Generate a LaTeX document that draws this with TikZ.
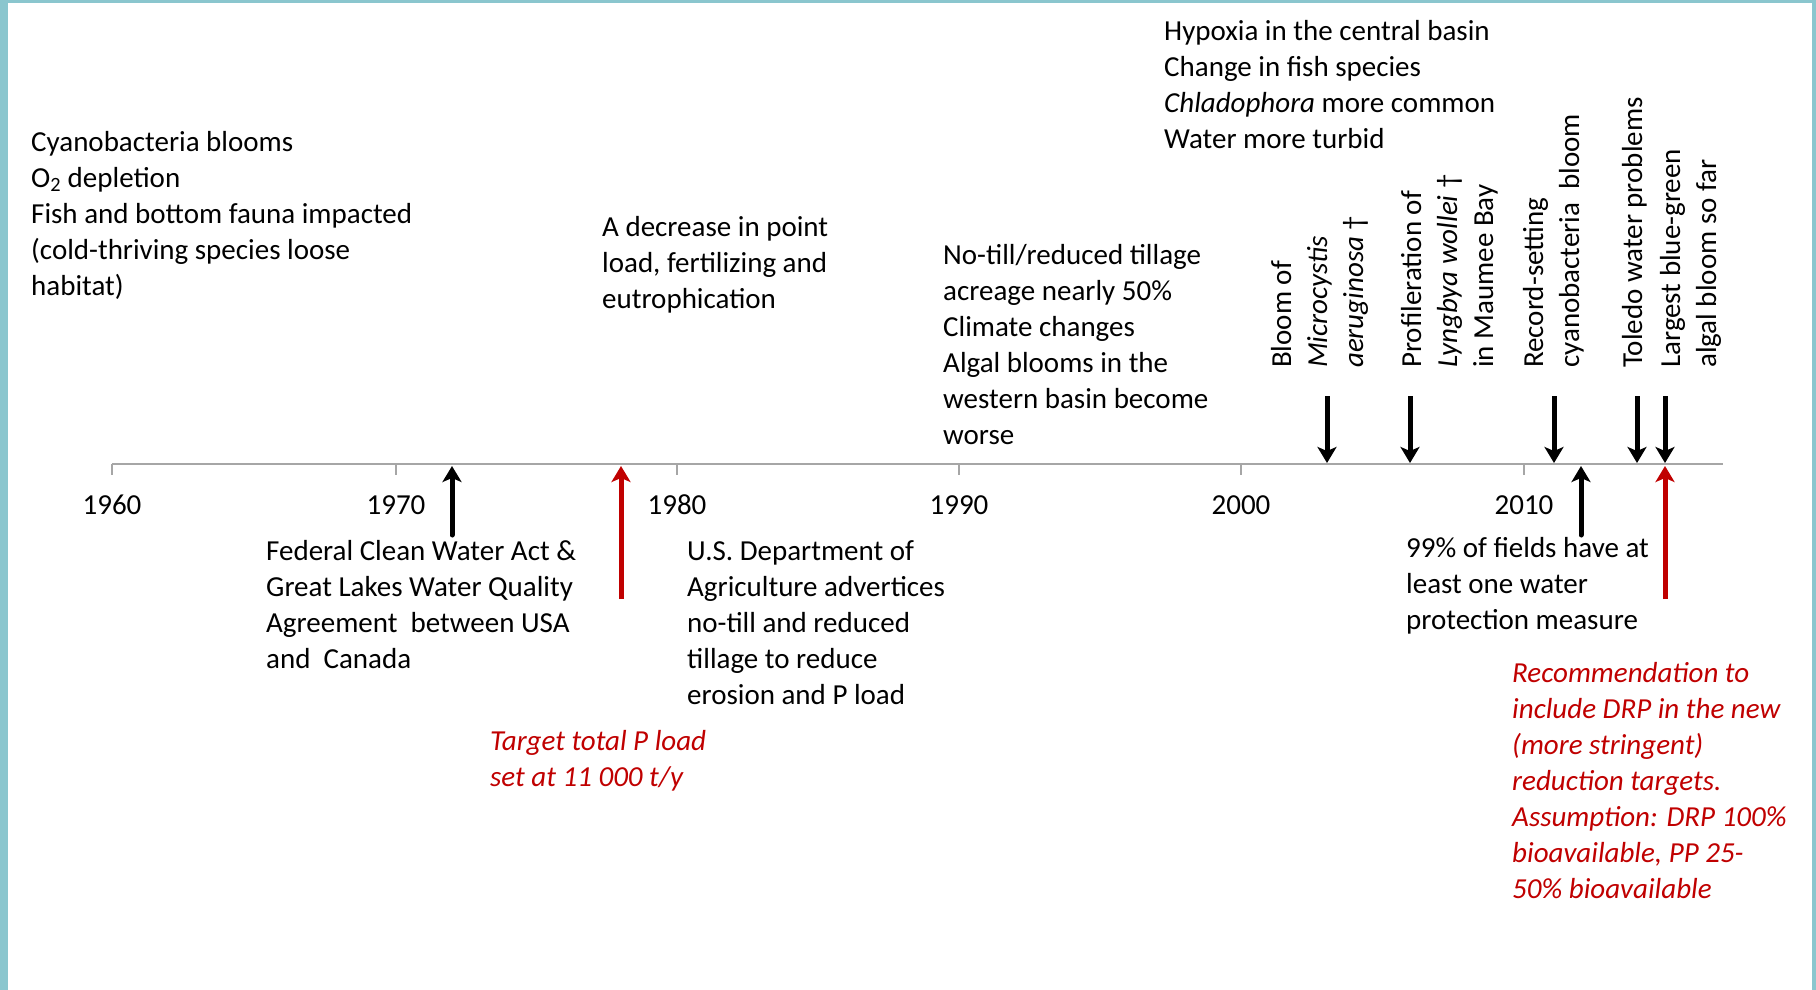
\documentclass[tikz,border=0pt]{standalone}
\usepackage{fontspec}
\setmainfont{Carlito}
\usetikzlibrary{arrows.meta}
\definecolor{teal1}{RGB}{138,198,206}
\definecolor{darkred}{RGB}{192,0,0}
\definecolor{axisgray}{RGB}{166,166,166}
\tikzset{
  txt/.style={anchor=base west, inner sep=0pt, align=left, font=\fontsize{29}{36}\selectfont},
  redtxt/.style={txt, text=darkred, font=\fontsize{29}{36}\selectfont\itshape},
  rtxt/.style={txt, rotate=90},
  yearlbl/.style={anchor=base, inner sep=0pt, font=\fontsize{29}{36}\selectfont},
  axisline/.style={draw=axisgray, line width=2pt},
  tickmark/.style={draw=axisgray, line width=1.5pt},
  downarr/.style={draw=black, line width=5pt, -{Stealth[length=16pt,width=19pt,inset=4pt]}},
  uparr/.style={draw=black, line width=5pt, line cap=round, -{Stealth[length=16pt,width=19pt,inset=4pt]}},
  redarr/.style={draw=darkred, line width=5pt, -{Stealth[length=16pt,width=19pt,inset=4pt]}},
}
\begin{document}
\begin{tikzpicture}[x=1pt,y=-1pt]
\useasboundingbox (0,0) rectangle (1816,990);
\fill[white] (0,0) rectangle (1816,990);
% border
\fill[teal1] (0,0) rectangle (8,990);
\fill[teal1] (0,0) rectangle (1816,3);
\fill[teal1] (1812,0) rectangle (1816,990);

% axis
\coordinate (axL) at (112,464);
\coordinate (axR) at (1723,464);
\draw[axisline] (axL) -- (axR);
\foreach \yr/\xx in {1960/112,1970/396,1980/677,1990/959,2000/1241,2010/1524}{
  \coordinate (tk\yr) at (\xx,464);
  \coordinate (tkb\yr) at (\xx,475);
  \draw[tickmark] (tk\yr) -- (tkb\yr);
  \node[yearlbl] (yl\yr) at (\xx,514) {\yr};
}

% arrow coordinates
\coordinate (a72tip) at (452,466);
\coordinate (a72tail) at (452,535);
\coordinate (a78tip) at (621,466);
\coordinate (a78tail) at (621,599);
\coordinate (a03tail) at (1327,396);
\coordinate (a03tip) at (1327,463);
\coordinate (a06tail) at (1410,396);
\coordinate (a06tip) at (1410,463);
\coordinate (a11tail) at (1554,396);
\coordinate (a11tip) at (1554,463);
\coordinate (a14tail) at (1637,396);
\coordinate (a14tip) at (1637,463);
\coordinate (a15tail) at (1665,396);
\coordinate (a15tip) at (1665,463);
\coordinate (a12tip) at (1581,466);
\coordinate (a12tail) at (1581,535);
\coordinate (a15rtip) at (1665,466);
\coordinate (a15rtail) at (1665,599);

\draw[uparr] (a72tail) -- (a72tip);
\draw[redarr] (a78tail) -- (a78tip);
\draw[downarr] (a03tail) -- (a03tip);
\draw[downarr] (a06tail) -- (a06tip);
\draw[downarr] (a11tail) -- (a11tip);
\draw[downarr] (a14tail) -- (a14tip);
\draw[downarr] (a15tail) -- (a15tip);
\draw[uparr] (a12tail) -- (a12tip);
\draw[redarr] (a15rtail) -- (a15rtip);

% text above (anchor = baseline of last line)
\node[txt] (cyano) at (31,295) {Cyanobacteria blooms\\O\textsubscript{2} depletion\\Fish and bottom fauna impacted\\(cold-thriving species loose\\habitat)};
\node[txt] (decr) at (602,308) {A decrease in point\\load, fertilizing and\\eutrophication};
\node[txt] (notill) at (943,444) {No-till/reduced tillage\\acreage nearly 50\%\\Climate changes\\Algal blooms in the\\western basin become\\worse};
\node[txt] (hypox) at (1164,148) {Hypoxia in the central basin\\Change in fish species\\\textit{Chladophora} more common\\Water more turbid};

% rotated
\node[rtxt] (bloom) at (1363,368) {Bloom of\\\textit{Microcystis}\\\textit{aeruginosa} \textdagger};
\node[rtxt] (lyng) at (1493,368) {Profileration of\\\textit{Lyngbya wollei} \textdagger\\in Maumee Bay};
\node[rtxt] (record) at (1579,368) {Record-setting\\cyanobacteria\ \ bloom};
\node[rtxt] (toledo) at (1642,368) {Toledo water problems};
\node[rtxt] (largest) at (1716,368) {Largest blue-green\\algal bloom so far};

% text below
\node[txt] (fed) at (266,668) {Federal Clean Water Act \&\\Great Lakes Water Quality\\Agreement\ \ between USA\\and\ \ Canada};
\node[txt] (usda) at (687,704) {U.S. Department of\\Agriculture advertices\\no-till and reduced\\tillage to reduce\\erosion and P load};
\node[redtxt] (target) at (490,786) {Target total P load\\set at 11 000 t/y};
\node[txt] (fields) at (1406,629) {99\% of fields have at\\least one water\\protection measure};
\node[redtxt] (recom) at (1512,898) {Recommendation to\\include DRP in the new\\(more stringent)\\reduction targets.\\Assumption: DRP 100\%\\bioavailable, PP 25-\\50\% bioavailable};
\end{tikzpicture}
\end{document}
